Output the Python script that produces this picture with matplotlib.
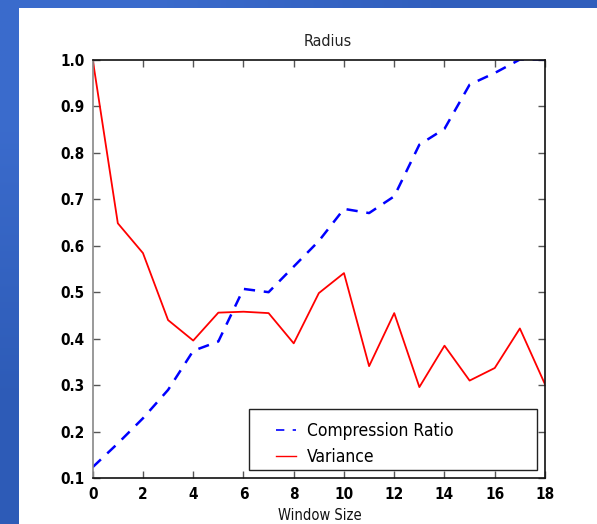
import numpy as np
import matplotlib
matplotlib.use("Agg")
import matplotlib.pyplot as plt
from matplotlib.patches import Rectangle

# ---- data ----
window_size = [0, 1, 2, 3, 4, 5, 6, 7, 8, 9, 10, 11, 12, 13, 14, 15, 16, 17, 18]
compression_ratio = [0.124, 0.175, 0.229, 0.29, 0.374, 0.394, 0.507, 0.50, 0.555, 0.61,
                     0.679, 0.670, 0.706, 0.817, 0.851, 0.946, 0.971, 1.0, 1.0]
variance = [1.0, 0.648, 0.584, 0.440, 0.396, 0.456, 0.458, 0.455, 0.390, 0.498,
            0.541, 0.341, 0.455, 0.296, 0.385, 0.310, 0.337, 0.422, 0.302]
x_ticks = [0, 2, 4, 6, 8, 10, 12, 14, 16, 18]
y_ticks = [0.1, 0.2, 0.3, 0.4, 0.5, 0.6, 0.7, 0.8, 0.9, 1.0]
title = "Radius"
x_label = "Window Size"
series_names = ["Compression Ratio", "Variance"]

W, H = 597, 524
fig = plt.figure(figsize=(W / 100, H / 100), dpi=100)
fig.patch.set_facecolor("white")

# slide background: blue gradient bands on top and left
bg = fig.add_axes([0, 0, 1, 1], zorder=-10)
grad = np.array([[[0.23, 0.42, 0.80], [0.19, 0.37, 0.74]],
                 [[0.18, 0.36, 0.72], [0.18, 0.36, 0.72]]])
bg.imshow(grad, extent=[0, 1, 0, 1], aspect="auto", interpolation="bilinear")
bg.add_patch(Rectangle((19 / W, 0), 1, (H - 8) / H, facecolor="white",
                       edgecolor="none", transform=bg.transAxes))
bg.set_xlim(0, 1); bg.set_ylim(0, 1)
bg.axis("off")

# plot axes in pixel coords
x0, x1 = 92.7, 545.0
y_top, y_bot = 59.5, 478.3
ax = fig.add_axes([x0 / W, (H - y_bot) / H, (x1 - x0) / W, (y_bot - y_top) / H])
ax.set_facecolor("white")

ax.plot(window_size, compression_ratio, color="#0000ff", lw=1.8,
        dashes=(4.5, 3.5), label=series_names[0])
ax.plot(window_size, variance, color="#ff0000", lw=1.3, label=series_names[1])

ax.set_xlim(0, 18)
ax.set_ylim(0.1, 1.0)
ax.set_xticks(x_ticks)
ax.set_yticks(y_ticks)
ax.set_xticklabels([str(v) for v in x_ticks])
ax.set_yticklabels([f"{v:.1f}" for v in y_ticks])
ax.tick_params(direction="in", length=5, width=1, color="#555555",
               top=True, right=True, labelsize=11, pad=6)
for lab in ax.get_xticklabels() + ax.get_yticklabels():
    lab.set_fontweight("bold")
    lab.set_fontstretch("condensed")
for s in ["top", "right", "bottom"]:
    ax.spines[s].set_color("#111111")
    ax.spines[s].set_linewidth(1.2)
ax.spines["left"].set_color("#888888")
ax.spines["left"].set_linewidth(1.2)

fig.text(328 / W, 1 - 42 / H, title, ha="center", va="center", fontsize=11.5,
         color="#222222", fontstretch="condensed")
fig.text(320 / W, 1 - 515 / H, x_label, ha="center", va="center", fontsize=10.5,
         color="#111111", fontstretch="condensed")

# legend frame (gnuplot-style box), drawn separately inside the axes
lx0, lx1, ly0, ly1 = 249.3, 536.7, 409.3, 470.0
frame = Rectangle((lx0 / W, 1 - ly1 / H), (lx1 - lx0) / W, (ly1 - ly0) / H,
                  facecolor="white", edgecolor="#222222", lw=1.0,
                  transform=fig.transFigure, zorder=5, clip_on=False)
ax.add_patch(frame)

leg = ax.legend(loc="center left",
                bbox_to_anchor=(276 / W, 1 - 444 / H),
                bbox_transform=fig.transFigure, borderaxespad=0, borderpad=0,
                frameon=False, handlelength=1.15, handletextpad=0.65,
                labelspacing=0.45, prop={"size": 12.5, "stretch": "condensed"})
leg.set_zorder(6)
hl = leg.get_lines()
hl[0].set_linewidth(1.2)
hl[0].set_dashes((5, 5))
hl[1].set_linewidth(1.0)

fig.savefig("out.png", dpi=100)
